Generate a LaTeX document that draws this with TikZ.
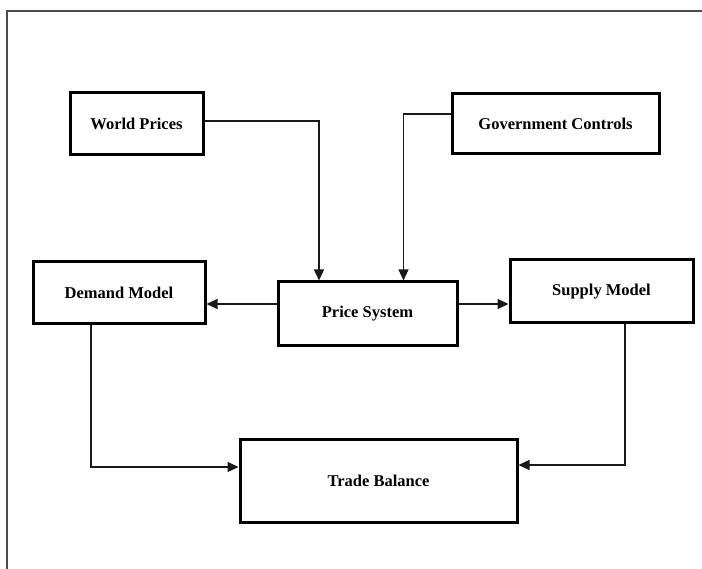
\documentclass[tikz,border=0pt]{standalone}
\usepackage{fontspec}
\setmainfont{Liberation Serif}
\usetikzlibrary{arrows.meta}
\begin{document}
\begin{tikzpicture}[x=1pt,y=-1pt,
  box/.style={draw=black,line width=3pt,inner sep=0pt,font=\bfseries\fontsize{16.5}{20}\selectfont},
  conn/.style={draw=black!90,line width=1.1pt,-{Triangle[length=11pt,width=10pt]}},
  frame/.style={draw=black!70,line width=2pt}]
\useasboundingbox (0,0) rectangle (702,569);
\coordinate (fbl) at (7,569);
\coordinate (ftl) at (7,11);
\coordinate (ftr) at (702,11);
\draw[frame] (fbl) -- (ftl) -- (ftr);
\node[box,minimum width=133pt,minimum height=62pt] (wp) at (136.5,124) {World Prices};
\node[box,minimum width=207pt,minimum height=60pt] (gc) at (555.5,123.5) {Government Controls};
\node[box,minimum width=172pt,minimum height=62pt] (dm) at (119,293) {Demand Model};
\node[box,minimum width=179pt,minimum height=64pt] (ps) at (367.5,314) {Price System};
\node[box,minimum width=183pt,minimum height=63pt] (sm) at (601.5,291.5) {Supply Model};
\node[box,minimum width=277pt,minimum height=82pt] (tb) at (378.5,481) {Trade Balance};
\draw[conn] ([yshift=3pt]wp.east) -| ([xshift=-48.5pt]ps.north);
\draw[conn] ([yshift=9.5pt]gc.west) -| ([xshift=36pt]ps.north);
\draw[conn] ([yshift=10pt]ps.west) -- ([yshift=10pt]ps.west -| dm.east);
\draw[conn] ([yshift=10pt]ps.east) -- ([yshift=10pt]ps.east -| sm.west);
\draw[conn] ([xshift=-28pt]dm.south) |- ([yshift=14pt]tb.west);
\draw[conn] ([xshift=23.5pt]sm.south) |- ([yshift=16pt]tb.east);
\end{tikzpicture}
\end{document}
